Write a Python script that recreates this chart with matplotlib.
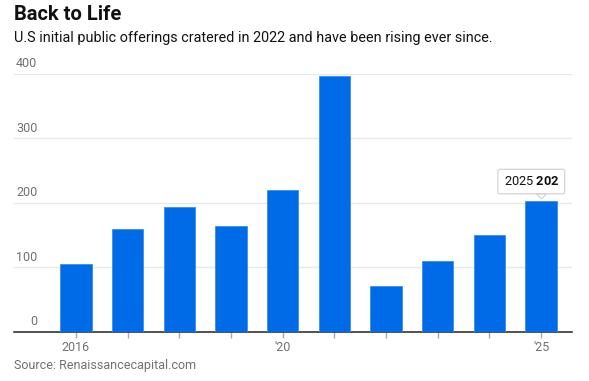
import matplotlib
matplotlib.use("Agg")
import matplotlib.pyplot as plt
import matplotlib.transforms as mtransforms

plt.rcParams['font.family'] = ['Roboto', 'DejaVu Sans']
plt.rcParams['mathtext.fontset'] = 'custom'
plt.rcParams['mathtext.rm'] = 'Roboto'
plt.rcParams['mathtext.bf'] = 'Roboto:bold'

# IPO counts per year
years = [2016, 2017, 2018, 2019, 2020, 2021, 2022, 2023, 2024, 2025]
ipos = [105, 159, 193, 163, 220, 396, 71, 109, 150, 202]

y_ticks = [0, 100, 200, 300, 400]
x_tick_years = [2016, 2020, 2025]
x_tick_labels = ['2016', "'20", "'25"]

BLUE = '#006be6'
GREY_TXT = '#707070'

fig = plt.figure(figsize=(5.89, 3.81), dpi=100)
ax = fig.add_axes([14/589, 49.5/381, 558/589, 258/381])

ax.bar(years, ipos, width=0.61, color=BLUE, edgecolor='#3d8cf0', linewidth=0.6, zorder=3)

ax.set_xlim(2014.8, 2025.6)
ax.set_ylim(0, 400)

# gridlines + labels sitting above them
for v in y_ticks:
    if v > 0:
        ax.axhline(v, color='#e8e8e8', lw=1, zorder=1)
    ax.text(0.042, v + 5, str(v), transform=ax.get_yaxis_transform(),
            ha='right', va='bottom', fontsize=9, color=GREY_TXT)

ax.set_yticks([])
for s in ['top', 'right', 'left']:
    ax.spines[s].set_visible(False)
ax.spines['bottom'].set_color('#222222')
ax.spines['bottom'].set_linewidth(1.1)

ax.set_xticks(years, minor=True)
ax.set_xticks(x_tick_years)
ax.set_xticklabels(x_tick_labels, fontsize=9, color=GREY_TXT)
ax.tick_params(axis='x', which='both', length=4, color='#aaaaaa', width=1, pad=3)
ax.tick_params(axis='x', which='minor', labelbottom=False)

# callout on the last bar
last_x, last_y = years[-1], ipos[-1]
ax.annotate(r"%d $\mathbf{%d}$" % (last_x, last_y), xy=(last_x, last_y),
            xytext=(-7, 9.5), textcoords='offset points', ha='center', va='bottom',
            fontsize=9.2, color='#111111', zorder=6,
            bbox=dict(boxstyle='round,pad=0.45,rounding_size=0.15', fc='white', ec='#d0d0d0', lw=0.8))
notch = [(-1, 0.5), (1, 0.5), (0, -0.5), (-1, 0.5)]
tri = mtransforms.offset_copy(ax.transData, fig=fig, x=0, y=3.6, units='points')
ax.plot([last_x], [last_y], marker=notch, ms=7, color='white', mec='#d0d0d0', mew=0.8,
        transform=tri, zorder=7, clip_on=False)

fig.text(14/589, 1 - 15/381, 'Back to Life', fontsize=14.5, fontweight='bold',
         color='#111111', ha='left', va='center')
fig.text(14/589, 1 - 38/381, 'U.S initial public offerings cratered in 2022 and have been rising ever since.',
         fontsize=10.4, color='#111111', ha='left', va='center')
fig.text(14/589, 1 - 366/381, 'Source: Renaissancecapital.com', fontsize=9,
         color=GREY_TXT, ha='left', va='center')

fig.savefig('out.png', dpi=100)
